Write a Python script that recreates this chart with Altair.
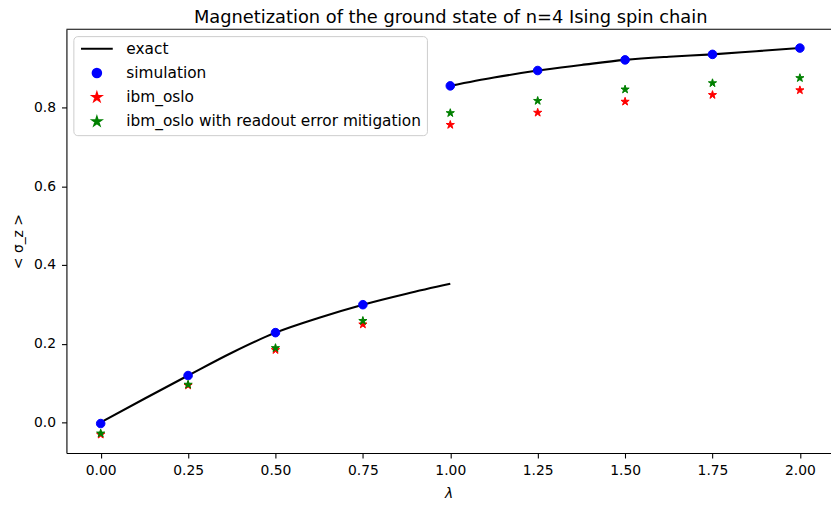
import altair as alt
import pandas as pd

# ---- data ----
series_names = ["exact", "simulation", "ibm_oslo", "ibm_oslo with readout error mitigation"]
series_colors = ["black", "blue", "red", "green"]

lam = [0.0, 0.25, 0.5, 0.75, 1.0, 1.25, 1.5, 1.75, 2.0]
simulation = [-0.003, 0.119, 0.228, 0.299, 0.855, 0.894, 0.921, 0.935, 0.951]
ibm_oslo = [-0.031, 0.094, 0.184, 0.249, 0.756, 0.787, 0.815, 0.832, 0.844]
ibm_oslo_mitigated = [-0.028, 0.096, 0.189, 0.258, 0.786, 0.817, 0.846, 0.862, 0.875]

exact_lam_low = [0.0, 0.125, 0.25, 0.375, 0.5, 0.625, 0.75, 0.875, 1.0]
exact_low = [0.0, 0.060, 0.119, 0.177, 0.228, 0.266, 0.299, 0.327, 0.352]
exact_lam_high = [1.0, 1.125, 1.25, 1.375, 1.5, 1.625, 1.75, 1.875, 2.0]
exact_high = [0.855, 0.876, 0.894, 0.908, 0.921, 0.929, 0.935, 0.943, 0.951]

x_ticks = [0.0, 0.25, 0.5, 0.75, 1.0, 1.25, 1.5, 1.75, 2.0]
y_ticks = [0.0, 0.2, 0.4, 0.6, 0.8]

# ---- tables ----
exact_df = pd.DataFrame({
    "lam": exact_lam_low + exact_lam_high,
    "val": exact_low + exact_high,
    "branch": ["low"] * len(exact_low) + ["high"] * len(exact_high),
})

pts_rows = []
for name, vals in [("simulation", simulation), ("ibm_oslo", ibm_oslo),
                   ("ibm_oslo with readout error mitigation", ibm_oslo_mitigated)]:
    for l, v in zip(lam, vals):
        pts_rows.append({"lam": l, "val": v, "series": name})
pts_df = pd.DataFrame(pts_rows)

W, H = 772, 428
FONT = "DejaVu Sans"

star = ("M0,-1 L0.2245,-0.309 L0.951,-0.309 L0.363,0.118 L0.588,0.809 "
        "L0,0.382 L-0.588,0.809 L-0.363,0.118 L-0.951,-0.309 L-0.2245,-0.309 Z")
line_sym = "M-3.7,0 L3.7,0"
shapes = [line_sym, "circle", star, star]

xscale = alt.Scale(domain=[-0.098, 2.089], nice=False, zero=False)
yscale = alt.Scale(domain=[-0.078, 0.999], nice=False, zero=False)

xaxis = alt.Axis(values=x_ticks, format=".2f", title="λ", titleFontStyle="italic",
                 titleFontWeight="normal", titleFontSize=14, titlePadding=9,
                 labelPadding=6, labelFlush=False)
yaxis = alt.Axis(values=y_ticks, format=".1f", title="< σ_z >",
                 titleFontWeight="normal", titleFontSize=14, titlePadding=8,
                 labelPadding=6, labelFlush=False)

lines = alt.Chart(exact_df).mark_line(color="black", strokeWidth=2.1, interpolate="monotone").encode(
    x=alt.X("lam:Q", scale=xscale, axis=xaxis),
    y=alt.Y("val:Q", scale=yscale, axis=yaxis),
    detail="branch:N",
    order="lam:Q",
)

legend = alt.Legend(
    title=None, orient="top-left", offset=7, padding=5,
    fillColor="rgba(255,255,255,0.8)", strokeColor="#cccccc", cornerRadius=4,
    labelFontSize=15.5, labelFont=FONT, labelColor="black", labelLimit=0,
    symbolSize=75, symbolStrokeWidth=2, symbolOpacity=1,
    rowPadding=6.5, symbolOffset=11, labelOffset=22,
)

points = alt.Chart(pts_df).mark_point(filled=True, size=75, strokeWidth=1, opacity=1).encode(
    x=alt.X("lam:Q", scale=xscale),
    y=alt.Y("val:Q", scale=yscale),
    color=alt.Color("series:N", scale=alt.Scale(domain=series_names, range=series_colors),
                    legend=legend),
    stroke=alt.Stroke("series:N", scale=alt.Scale(domain=series_names, range=series_colors),
                      legend=legend),
    shape=alt.Shape("series:N", scale=alt.Scale(domain=series_names, range=shapes),
                    legend=legend),
    order=alt.Order("idx:Q"),
).transform_calculate(
    idx="indexof(['simulation','ibm_oslo','ibm_oslo with readout error mitigation'], datum.series)"
)

top_spine = alt.Chart(pd.DataFrame({"a": [0]})).mark_rule(color="black", strokeWidth=1.1).encode(
    x=alt.value(0), x2=alt.value(W), y=alt.value(0)
)

chart = alt.layer(lines, points, top_spine).properties(
    width=W, height=H,
    title=alt.TitleParams(
        "Magnetization of the ground state of n=4 Ising spin chain",
        font=FONT, fontSize=18, fontWeight="normal", color="black",
        anchor="middle", frame="group", baseline="alphabetic", offset=6, dx=2, dy=18.5,
    ),
    autosize=alt.AutoSizeParams(type="none"),
    padding={"left": 59, "top": 19, "right": 0, "bottom": 46},
).configure_view(strokeWidth=0).configure_axis(
    grid=False, domainColor="black", domainWidth=1.1, tickColor="black", tickWidth=1.1,
    tickSize=5, labelColor="black", titleColor="black", labelFont=FONT, titleFont=FONT,
    labelFontSize=14,
)

chart.save("out.html", embed_options={"renderer": "svg", "actions": False})
